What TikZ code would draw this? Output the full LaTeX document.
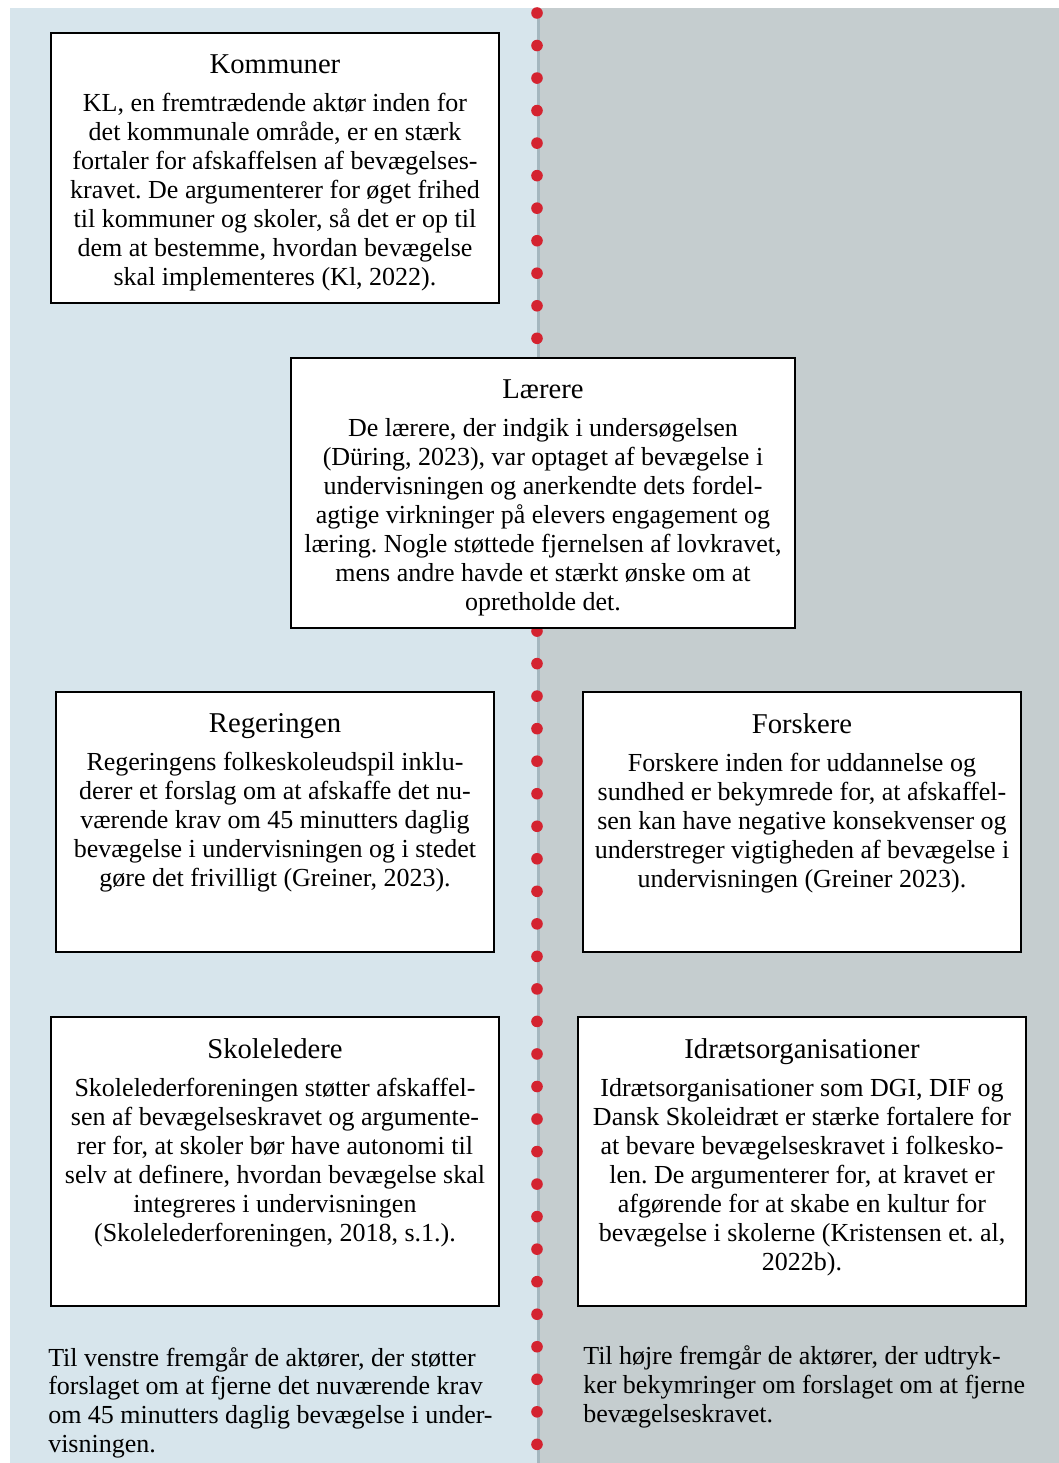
\documentclass[tikz,border=0pt]{standalone}
\usepackage{fontspec}
\setmainfont{Liberation Serif}
\frenchspacing
\definecolor{leftbg}{HTML}{D7E5EC}
\definecolor{rightbg}{HTML}{C5CDCF}
\definecolor{midline}{HTML}{A5B7BF}
\definecolor{dotred}{HTML}{D42330}
\newcommand{\actortitle}[1]{{\fontsize{21.5}{21.75}\selectfont #1}\\[6.75pt]}

\begin{document}
\begin{tikzpicture}[x=0.75pt,y=-0.75pt,
  actorbox/.style={draw,fill=white,line width=1.9pt,inner sep=0pt},
  actortext/.style={anchor=north,align=center,inner sep=0pt,font=\fontsize{19.5}{21.75}\selectfont},
  sidetext/.style={anchor=base west,align=left,inner sep=0pt,font=\fontsize{19.5}{21.5}\selectfont}]

\useasboundingbox (0,0) rectangle (1059,1463);
% baggrund
\fill[leftbg] (10,8) rectangle (537,1463);
\fill[rightbg] (537,8) rectangle (1059,1463);
\draw[midline,line width=2.25pt] (538,8) -- (538,1463);
\foreach \i in {0,...,45}
  \fill[dotred] (537,{13+32.53*\i}) circle (5.8);

% aktoerer
\node[actorbox,minimum width=336pt,minimum height=202.5pt] (kommuner) at (275,168) {};
\node[actortext] (kommunertxt) at (275,54) {\actortitle{Kommuner}
  KL, en fremtrædende aktør inden for\\
  det kommunale område, er en stærk\\
  fortaler for afskaffelsen af bevægelses-\\
  kravet. De argumenterer for øget frihed\\
  til kommuner og skoler, så det er op til\\
  dem at bestemme, hvordan bevægelse\\
  skal implementeres (Kl, 2022).};

\node[actorbox,minimum width=378pt,minimum height=202.5pt] (laerere) at (543,493) {};
\node[actortext] (laereretxt) at (543,379) {\actortitle{Lærere}
  De lærere, der indgik i undersøgelsen\\
  (Düring, 2023), var optaget af bevægelse i\\
  undervisningen og anerkendte dets fordel-\\
  agtige virkninger på elevers engagement og\\
  læring. Nogle støttede fjernelsen af lovkravet,\\
  mens andre havde et stærkt ønske om at\\
  opretholde det.};

\node[actorbox,minimum width=328.5pt,minimum height=195pt] (regeringen) at (275,822) {};
\node[actortext] (regeringentxt) at (275,713) {\actortitle{Regeringen}
  Regeringens folkeskoleudspil inklu-\\
  derer et forslag om at afskaffe det nu-\\
  værende krav om 45 minutters daglig\\
  bevægelse i undervisningen og i stedet\\
  gøre det frivilligt (Greiner, 2023).};

\node[actorbox,minimum width=328.5pt,minimum height=195pt] (forskere) at (802,822) {};
\node[actortext] (forskeretxt) at (802,713) {\actortitle{Forskere}
  Forskere inden for uddannelse og\\
  sundhed er bekymrede for, at afskaffel-\\
  sen kan have negative konsekvenser og\\
  understreger vigtigheden af bevægelse i\\
  undervisningen (Greiner 2023).};

\node[actorbox,minimum width=336pt,minimum height=216.75pt] (skoleledere) at (275,1161.5) {};
\node[actortext] (skolelederetxt) at (275,1038) {\actortitle{Skoleledere}
  Skolelederforeningen støtter afskaffel-\\
  sen af bevægelseskravet og argumente-\\
  rer for, at skoler bør have autonomi til\\
  selv at definere, hvordan bevægelse skal\\
  integreres i undervisningen\\
  (Skolelederforeningen, 2018, s.1.).};

\node[actorbox,minimum width=336pt,minimum height=216.75pt] (idraet) at (802,1161.5) {};
\node[actortext] (idraettxt) at (802,1038) {\actortitle{Idrætsorganisationer}
  Idrætsorganisationer som DGI, DIF og\\
  Dansk Skoleidræt er stærke fortalere for\\
  at bevare bevægelseskravet i folkesko-\\
  len. De argumenterer for, at kravet er\\
  afgørende for at skabe en kultur for\\
  bevægelse i skolerne (Kristensen et. al,\\
  2022b).};

% forklaring
\node[sidetext] (venstre) at (48,1452) {Til venstre fremgår de aktører, der støtter\\
  forslaget om at fjerne det nuværende krav\\
  om 45 minutters daglig bevægelse i under-\\
  visningen.};
\node[sidetext] (hoejre) at (583,1422) {Til højre fremgår de aktører, der udtryk-\\
  ker bekymringer om forslaget om at fjerne\\
  bevægelseskravet.};
\end{tikzpicture}
\end{document}
